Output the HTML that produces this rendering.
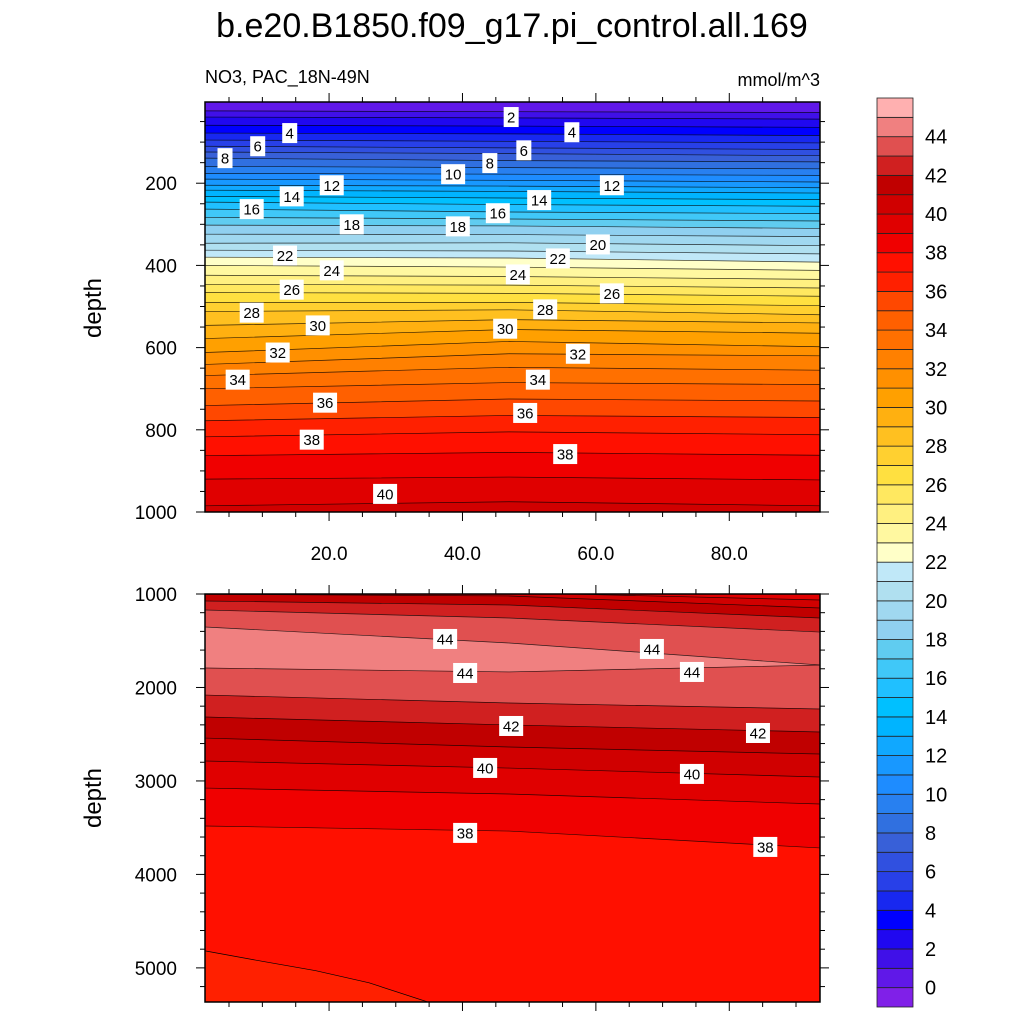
<!DOCTYPE html>
<html><head><meta charset="utf-8"><style>
body{margin:0;background:#fff;}
svg{display:block;font-family:"Liberation Sans",sans-serif;}
</style></head><body>
<svg id="chart" width="1024" height="1024" viewBox="0 0 1024 1024" xmlns="http://www.w3.org/2000/svg">
<text x="512" y="37" font-size="34" text-anchor="middle">b.e20.B1850.f09_g17.pi_control.all.169</text>
<text x="205" y="83" font-size="18">NO3, PAC_18N-49N</text>
<text x="820" y="86" font-size="18" text-anchor="end">mmol/m^3</text>
<text transform="translate(101,308) rotate(-90)" font-size="24" text-anchor="middle">depth</text>
<text transform="translate(101,798) rotate(-90)" font-size="24" text-anchor="middle">depth</text>
<g id="top"></g>
<g id="bot"></g>
<g id="cbar"></g>
</svg>
<script>
const colors = ['#8020e8','#6018e8','#4010e8','#2008f0','#0000ff','#1828f0','#2840e8','#3050e0','#3860d8','#3070e0','#2880f0','#1e8cff','#1898ff','#10a8ff','#00b4ff','#00c0ff','#20c0ff','#40c8f8','#60ccf0','#90d0f0','#a0d8f0','#b0e0f0','#c0e8f8','#ffffc8','#fff8a0','#fff080','#ffe860','#ffe040','#ffd030','#ffc020','#ffb010','#ffa000','#ff9000','#ff8000','#ff7000','#ff6000','#ff4800','#ff2000','#ff1000','#f00000','#e00000','#d00000','#c00000','#d02020','#e05050','#f08080','#ffb0b0'];
const colX = [1.4, 47, 93.6];
const topLevels = [1,2,3,4,5,6,7,8,9,10,11,12,13,14,15,16,17,18,19,20,21,22,23,24,25,26,27,28,29,30,31,32,33,34,35,36,37,38,39,40,41];
const topLeft = [24,39,59,78,95,110,124,139,159,176,190,205,217,232,246,263,283,302,324,346,363,380,400,424,446,466,490,512,546,578,612,641,668,700,741,778,817,863,920,985,1046];
const topMid = [26,41,61,80,98,114,128,145,162,178,193,207,220,236,252,270,287,304,325,345,365,382,404,427,448,468,490,508,532,556,585,615,648,685,725,765,805,855,915,975,1040];
const topRight = [28,44,64,84,102,118,133,148,165,181,197,211,224,240,256,274,292,310,330,352,372,392,412,434,455,475,498,520,540,565,598,620,655,690,730,770,812,862,922,985,1050];
const botBandAbove = [39,40,41,42,43,44,43,42,41,40,39,38,37];
const botLeft = [960,1003,1075,1171,1353,1792,2081,2316,2541,2787,3076,3482];
const botMid = [985,1021,1118,1257,1524,1834,2166,2401,2637,2862,3140,3536];
const botRight = [1064,1150,1257,1407,1760,1760,2230,2476,2712,2958,3247,3717];
const curveX = [1.4, 10, 18, 26, 34.8];
const curveDepth = [4818, 4930, 5030, 5160, 5365];
const curveBand = 36;
const topLabelVal = [2,4,4,6,6,8,8,10,12,12,14,14,16,16,18,18,20,22,22,24,24,26,26,28,28,30,30,32,32,34,34,36,36,38,38,40];
const topLabelX = [47.3,14.1,56.4,9.3,49.2,4.4,44.1,38.6,20.4,62.4,14.4,51.5,8.4,45.3,23.4,39.3,60.3,13.4,54.3,20.4,48.3,14.4,62.4,8.4,52.4,18.3,46.4,12.3,57.3,6.3,51.3,19.4,49.4,17.4,55.4,28.4];
const topLabelD = [39,78,76,110,120,139,151,178,205,205,232,241,263,273,300,305,349,376,383,412,422,459,468,515,507,546,554,612,615,678,678,734,759,824,859,956];
const botLabelVal = [44,44,44,44,42,42,40,40,38,38];
const botLabelX = [37.4,68.4,40.4,74.4,47.3,84.3,43.4,74.4,40.4,85.4];
const botLabelD = [1481,1588,1845,1834,2412,2487,2861,2925,3556,3706];
const xTicks = [20,40,60,80];
const xTickLabels = ['20.0','40.0','60.0','80.0'];
const topYTicks = [200,400,600,800,1000];
const botYTicks = [1000,2000,3000,4000,5000];
const cbLabels = [0,2,4,6,8,10,12,14,16,18,20,22,24,26,28,30,32,34,36,38,40,42,44];

const NS='http://www.w3.org/2000/svg';
function mk(tag,attrs,parent){const e=document.createElementNS(NS,tag);for(const k in attrs)e.setAttribute(k,attrs[k]);parent.appendChild(e);return e;}
const X0=205,X1=820,xMin=1.4,xMax=93.6;
const xs=v=>X0+(v-xMin)/(xMax-xMin)*(X1-X0);
const topY=d=>102+(d-2.4)/(1000-2.4)*(512-102);
const botY=d=>594+(d-1000)/(5365-1000)*(1002-594);

function linePts(L,M,R,i,ys){return colX.map((x,j)=>[xs(x),ys([L,M,R][j][i])]);}

function panel(g,ys,y0,y1,Ls,Ms,Rs,bandAbove,name){
  const cp=mk('clipPath',{id:'clip'+name},g);
  mk('rect',{x:X0,y:y0,width:X1-X0,height:y1-y0},cp);
  const inner=mk('g',{'clip-path':'url(#clip'+name+')'},g);
  const n=Ls.length;
  const edgeTop=[[X0,y0-50],[X1,y0-50]];
  const edgeBot=[[X0,y1+50],[X1,y1+50]];
  for(let i=0;i<=n;i++){
    const up=i===0?edgeTop:linePts(Ls,Ms,Rs,i-1,ys);
    const dn=i===n?edgeBot:linePts(Ls,Ms,Rs,i,ys);
    const pts=up.concat(dn.slice().reverse()).map(p=>p.join(',')).join(' ');
    const poly=mk('polygon',{points:pts,fill:colors[bandAbove[i]+1],stroke:colors[bandAbove[i]+1],'stroke-width':0.5},inner);
    
    
  }
  for(let i=0;i<n;i++){
    const pl=mk('polyline',{points:linePts(Ls,Ms,Rs,i,ys).map(p=>p.join(',')).join(' '),fill:'none',stroke:'#000','stroke-width':0.7,'stroke-opacity':0.8},inner);
    
    
  }
  return inner;
}

const tg=document.getElementById('top');
const topBands=[0].concat(topLevels);
panel(tg,topY,102,512,topLeft,topMid,topRight,topBands,'T');
const bg=document.getElementById('bot');
const binner=panel(bg,botY,594,1002,botLeft,botMid,botRight,botBandAbove,'B');
{
  const pts=curveX.map((x,i)=>[xs(x),botY(curveDepth[i])]);
  const last=curveX.length-1;
  const poly=pts.concat([[xs(curveX[last]),1010],[X0-5,1010]]).map(p=>p.join(',')).join(' ');
  const c=mk('polygon',{points:poly,fill:colors[curveBand+1]},binner);
  
  
  const l=mk('polyline',{points:pts.map(p=>p.join(',')).join(' '),fill:'none',stroke:'#000','stroke-width':0.7},binner);
  
  
}

function labels(g,vals,xv,dv,ys,name){
  vals.forEach((v,i)=>{
    const cx=xs(xv[i]),cy=ys(dv[i]);
    const grp=mk('g',{},g);
    
    
    const w=String(v).length>1?24:15;
    mk('rect',{x:cx-w/2,y:cy-10,width:w,height:20,fill:'#fff'},grp);
    const t=mk('text',{x:cx,y:cy+5.5,'font-size':15,'text-anchor':'middle'},grp);
    t.textContent=v;
  });
}
labels(tg,topLabelVal,topLabelX,topLabelD,topY,'top-contour');
labels(bg,botLabelVal,botLabelX,botLabelD,botY,'bottom-contour');

function axes(g,y0,y1,ys,yTicks,minorStep,dMin,dMax,showX,name){
  mk('rect',{x:X0,y:y0,width:X1-X0,height:y1-y0,fill:'none',stroke:'#000','stroke-width':1.5},g);
  for(let v=5;v<=90;v+=5){
    const major=v%20===0, L=major?9:5, x=xs(v);
    mk('line',{x1:x,y1:y0,x2:x,y2:y0-L,stroke:'#000','stroke-width':1},g);
    mk('line',{x1:x,y1:y1,x2:x,y2:y1+L,stroke:'#000','stroke-width':1},g);
  }
  if(showX) xTicks.forEach((v,i)=>{
    const t=mk('text',{x:xs(v),y:y1+48,'font-size':19,'text-anchor':'middle'},g);
    
    
    t.textContent=xTickLabels[i];
  });
  for(let d=Math.ceil(dMin/minorStep)*minorStep;d<=dMax;d+=minorStep){
    const y=ys(d), major=yTicks.includes(d), L=major?9:5;
    mk('line',{x1:X0,y1:y,x2:X0-L,y2:y,stroke:'#000','stroke-width':1},g);
    mk('line',{x1:X1,y1:y,x2:X1+L,y2:y,stroke:'#000','stroke-width':1},g);
  }
  yTicks.forEach(v=>{
    const t=mk('text',{x:X0-28,y:ys(v)+7,'font-size':19,'text-anchor':'end'},g);
    
    
    t.textContent=v;
  });
}
axes(tg,102,512,topY,topYTicks,50,2.4,1000,true,'top');
axes(bg,594,1002,botY,botYTicks,200,1000,5365,false,'bottom');

const cg=document.getElementById('cbar');
const cbTop=98,cbBot=1007,bh=(cbBot-cbTop)/colors.length;
colors.forEach((c,i)=>{
  const r=mk('rect',{x:877,y:cbBot-(i+1)*bh,width:36,height:bh,fill:c,stroke:'#222','stroke-width':0.8},cg);
  
  
});
cbLabels.forEach(v=>{
  const t=mk('text',{x:925,y:cbBot-(v+1)*bh+7,'font-size':20},cg);
  
  
  t.textContent=v;
});
</script>
</body></html>
